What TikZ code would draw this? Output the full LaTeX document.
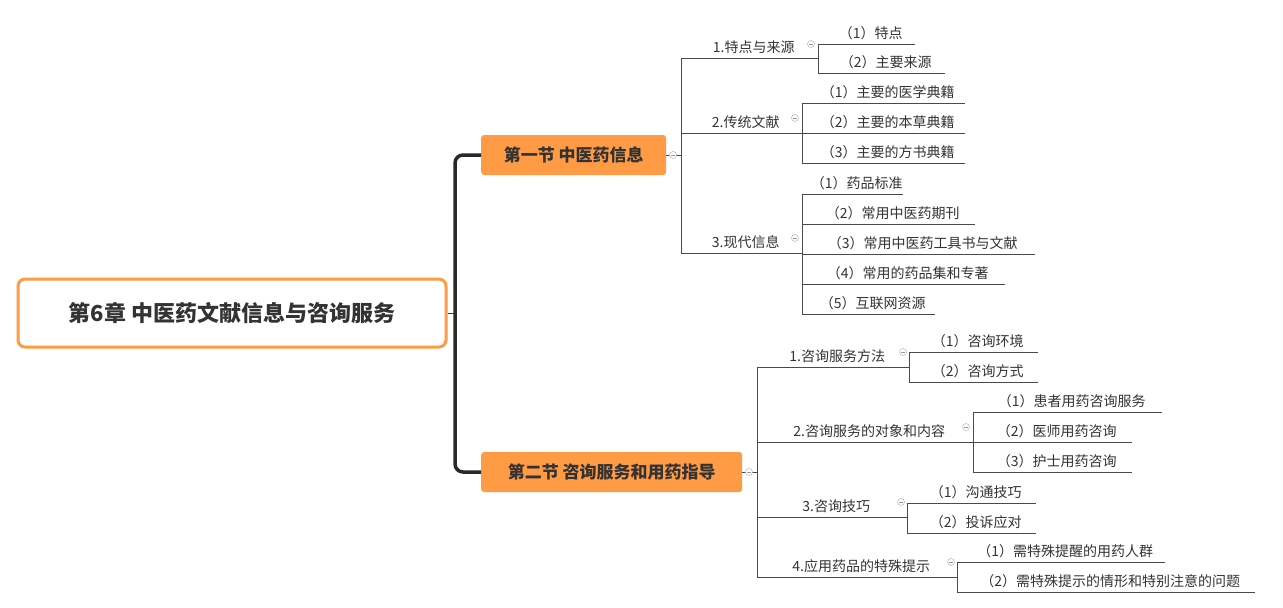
\documentclass[tikz,border=0pt]{standalone}
\usepackage{fontspec}
\setmainfont{Noto Sans CJK SC}
\usetikzlibrary{positioning,calc}
\definecolor{orng}{HTML}{FF9A45}
\definecolor{txt}{HTML}{333333}
\definecolor{lin}{HTML}{4A4A4A}
\tikzset{
  sect/.style={fill=orng,rounded corners=3pt,text=txt,font=\fontsize{17}{19}\selectfont\bfseries,inner xsep=14pt,minimum height=40pt},
  topic/.style={anchor=south west,inner xsep=0pt,inner ysep=4pt,text=txt,font=\fontsize{14}{16}\selectfont,align=left},
  leaf/.style={topic},
  ul/.style={draw=lin,line width=0.8pt},
  fold/.style={circle,draw=gray!70,inner sep=0pt,minimum size=7pt,fill=white,
    path picture={\draw[gray!80] ($(path picture bounding box.west)+(1.5pt,0)$)--($(path picture bounding box.east)-(1.5pt,0)$);}}
}
\newcommand{\lf}[5]{% name, x, y(underline), xend, text
  \node[leaf,minimum width={#4-#2-8}] (#1) at (#2+8,#3) {#5};
  \draw[ul] (#2,#3) coordinate (#1a) -- (#4,#3) coordinate (#1b);}
\begin{document}
\begin{tikzpicture}[x=1pt,y=-1pt]
\useasboundingbox[fill=white] (0,0) rectangle (1283,608);
% root and sections
\node[draw=orng,line width=3pt,rounded corners=7pt,minimum width=428,minimum height=68,
  text=txt,font=\fontsize{22}{24}\selectfont\bfseries] (root) at (232,313) {第6章\ 中医药文献信息与咨询服务};
\node[sect,minimum width=185,anchor=west] (s1) at (481,155) {第一节\ 中医药信息};
\node[sect,minimum width=261,anchor=west] (s2) at (481,472) {第二节\ 咨询服务和用药指导};
\draw[draw=txt!80!black,line width=3.5pt,rounded corners=8pt] (s1.west) -| (455,313) |- (s2.west);
\draw[draw=txt,line width=1pt] (root.east) -- (455,313);
% section 1
\lf{t1}{681}{58}{818}{1.特点与来源}
\lf{t2}{681}{133}{802}{2.传统文献}
\lf{t3}{681}{253}{802}{3.现代信息}
\draw[ul] (t1a) -- (t3a);
\draw[ul] (s1.east) -- (681,155);
\node[fold] at (673,155) {};
\node[fold] at (811,44) {};
\node[fold] at (795,118) {};
\node[fold] at (795,238) {};
\lf{a1}{818}{44}{915}{（1）特点}
\lf{a2}{818}{73}{945}{（2）主要来源}
\draw[ul] (a1a) -- (a2a);
\lf{b1}{802}{103}{965}{（1）主要的医学典籍}
\lf{b2}{802}{133}{965}{（2）主要的本草典籍}
\lf{b3}{802}{163}{965}{（3）主要的方书典籍}
\draw[ul] (b1a) -- (b3a);
\lf{c1}{802}{194}{903}{（1）药品标准}
\lf{c2}{802}{224}{975}{（2）常用中医药期刊}
\lf{c3}{802}{254}{1035}{（3）常用中医药工具书与文献}
\lf{c4}{802}{284}{1005}{（4）常用的药品集和专著}
\lf{c5}{802}{314}{935}{（5）互联网资源}
\draw[ul] (c1a) -- (c5a);
% section 2
\lf{u1}{757}{367}{909}{1.咨询服务方法}
\lf{u2}{757}{442}{973}{2.咨询服务的对象和内容}
\lf{u3}{757}{517}{907}{3.咨询技巧}
\lf{u4}{757}{577}{957}{4.应用药品的特殊提示}
\draw[ul] (u1a) -- (u4a);
\draw[ul] (s2.east) -- (757,472);
\node[fold] at (749,472) {};
\node[fold] at (903,352) {};
\node[fold] at (966,427) {};
\node[fold] at (901,502) {};
\node[fold] at (951,562) {};
\lf{d1}{909}{352}{1038}{（1）咨询环境}
\lf{d2}{909}{382}{1038}{（2）咨询方式}
\draw[ul] (d1a) -- (d2a);
\lf{e1}{973}{412}{1162}{（1）患者用药咨询服务}
\lf{e2}{973}{442}{1132}{（2）医师用药咨询}
\lf{e3}{973}{472}{1132}{（3）护士用药咨询}
\draw[ul] (e1a) -- (e3a);
\lf{f1}{907}{503}{1036}{（1）沟通技巧}
\lf{f2}{907}{533}{1036}{（2）投诉应对}
\draw[ul] (f1a) -- (f2a);
\lf{g1}{957}{562}{1165}{（1）需特殊提醒的用药人群}
\lf{g2}{957}{592}{1255}{（2）需特殊提示的情形和特别注意的问题}
\draw[ul] (g1a) -- (g2a);
\end{tikzpicture}
\end{document}
